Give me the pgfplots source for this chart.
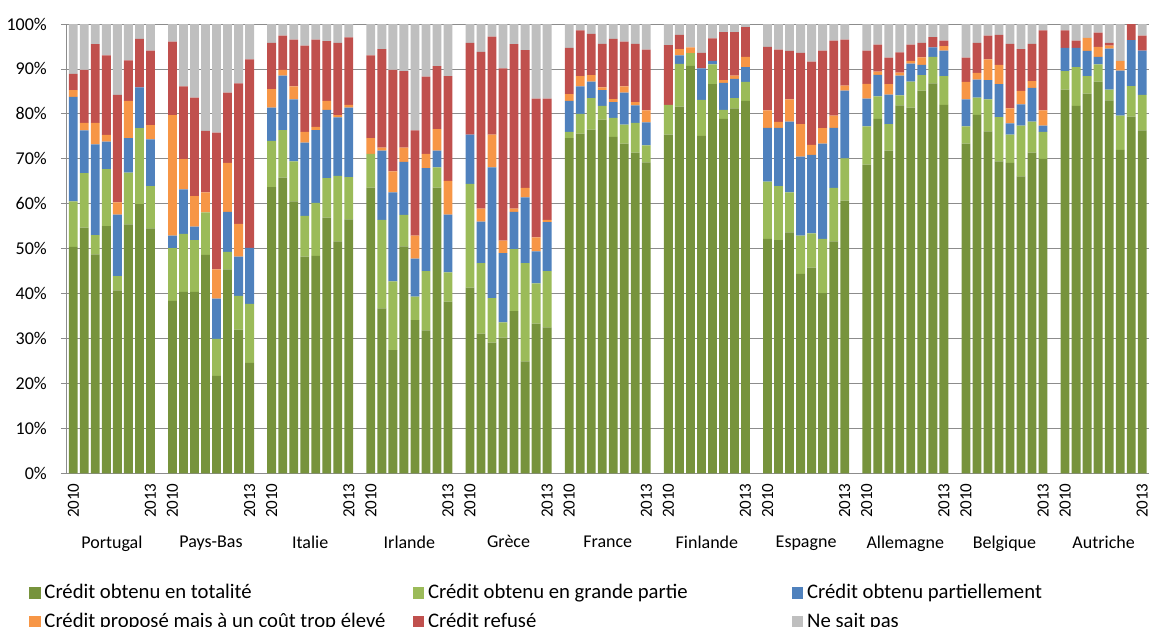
\documentclass[border=0pt]{standalone}
\usepackage{pgfplots}
\pgfplotsset{compat=1.18}
\usepackage{pgfplotstable}
\usepackage{fontspec}
\setmainfont{Carlito}
\definecolor{cD}{HTML}{77933C}
\definecolor{cL}{HTML}{9BBB59}
\definecolor{cB}{HTML}{4F81BD}
\definecolor{cO}{HTML}{F79646}
\definecolor{cR}{HTML}{C0504D}
\definecolor{cG}{HTML}{BFBFBF}
\definecolor{gridc}{HTML}{8C8C8C}

\pgfplotstableread{
x d l b o r g
0 50.4 10.1 23.3 1.5 3.6 11.1
1 54.7 12.1 9.5 1.7 11.8 10.2
2 48.7 4.3 20.2 4.8 17.5 4.5
3 55.0 12.7 6.1 1.5 17.7 7.0
4 40.7 3.2 13.7 2.7 23.9 15.8
5 55.4 11.5 7.7 8.3 9.0 8.1
6 59.9 16.9 9.1 0 10.8 3.3
7 54.5 9.4 10.4 3.2 16.6 5.9
9 38.4 11.7 2.8 26.8 16.4 3.9
10 40.4 12.9 9.9 6.7 16.2 13.9
11 40.4 11.5 3.0 6.8 21.9 16.4
12 48.6 9.5 0 4.4 13.7 23.8
13 21.7 8.2 9.0 6.5 30.4 24.2
14 45.4 3.9 8.9 10.9 15.6 15.3
15 32.0 7.5 8.7 7.3 31.3 13.2
16 24.6 13.1 12.5 0 41.9 7.9
18 63.7 10.3 7.4 4.1 10.3 4.2
19 65.8 10.6 12.1 1.3 7.6 2.6
20 60.5 8.9 13.8 2.9 10.4 3.5
21 48.2 9.1 16.3 2.4 19.2 4.8
22 48.4 11.8 16.2 0.7 19.4 3.5
23 56.9 8.8 15.2 2.0 13.3 3.8
24 51.6 14.6 13.0 0.5 16.1 4.2
25 56.5 9.4 15.5 0.6 15.0 3.0
27 63.6 7.5 0 3.5 18.4 7.0
28 36.7 19.7 15.4 0.7 21.9 5.6
29 27.4 15.3 19.8 4.7 22.6 10.2
30 50.5 7.0 11.8 3.2 17.0 10.5
31 34.1 5.2 8.5 5.1 23.4 23.7
32 31.8 13.2 22.9 3.2 17.2 11.7
33 63.6 4.5 3.7 4.8 14.0 9.4
34 38.2 6.5 12.9 7.5 23.3 11.6
36 41.3 23.1 11.0 0 20.4 4.2
37 31.1 15.7 9.2 2.9 34.9 6.2
38 29.1 9.9 29.1 7.3 21.8 2.8
39 30.2 3.4 15.4 2.8 38.3 9.9
40 36.1 13.8 8.3 0.7 36.6 4.5
41 24.9 21.9 14.6 2.1 30.7 5.8
42 33.3 9.0 7.1 3.1 30.9 16.6
43 32.5 12.5 10.9 0.5 27.0 16.6
45 74.6 1.4 6.9 1.5 10.3 5.3
46 75.6 4.4 6.1 2.3 10.2 1.4
47 76.5 7.0 3.7 1.4 9.2 2.2
48 78.7 3.1 3.5 0.6 9.7 4.4
49 74.9 4.2 3.5 0.7 13.4 3.3
50 73.4 4.2 7.1 1.4 10.0 3.9
51 71.4 6.6 3.9 0.7 13.0 4.4
52 69.2 3.8 5.1 2.7 13.5 5.7
54 75.4 6.6 0 0 13.3 4.7
55 81.6 9.5 1.9 1.4 3.2 2.4
56 90.7 2.8 0 1.3 0 5.2
57 75.1 8.0 7.0 0 3.5 6.4
58 86.6 4.4 0.8 0 5.0 3.2
59 78.9 2.0 6.0 0.6 10.7 1.8
60 81.2 2.3 4.3 0.7 9.7 1.8
61 82.9 4.2 3.3 2.3 6.6 0.7
63 52.2 12.7 12.0 3.9 14.1 5.1
64 51.9 12.0 13.0 1.3 16.1 5.7
65 53.6 8.9 15.8 4.9 10.8 6.0
66 44.4 8.5 17.6 7.2 15.9 6.4
67 45.8 7.6 17.5 2.2 18.5 8.4
68 40.1 12.1 21.2 3.4 17.3 5.9
69 51.6 11.9 13.4 2.7 16.7 3.7
70 60.7 9.4 15.1 1.1 10.2 3.5
72 68.7 8.5 6.2 3.3 7.4 5.9
73 78.9 5.0 4.8 0.7 6.0 4.6
74 71.8 5.9 6.6 2.3 5.9 7.5
75 81.9 2.2 4.4 0.7 4.5 6.3
76 81.4 5.8 4.0 0.6 3.6 4.6
77 85.2 3.4 2.3 1.7 3.2 4.2
78 86.8 5.9 2.1 0 2.3 2.9
79 82.0 6.4 5.7 1.0 1.2 3.7
81 73.4 3.8 6.0 3.9 5.4 7.5
82 79.8 3.8 4.0 1.5 6.7 4.2
83 76.1 7.1 4.3 4.6 5.3 2.6
84 69.4 9.9 7.3 4.3 6.7 2.4
85 69.1 6.3 2.5 3.3 14.4 4.4
86 66.1 11.3 4.7 3.0 9.3 5.6
87 71.4 6.9 7.5 1.5 8.3 4.4
88 70.0 6.0 1.4 3.4 17.8 1.4
90 85.4 4.1 5.2 0 3.9 1.4
91 81.8 8.6 4.3 0 1.6 3.7
92 84.5 3.9 5.6 2.9 0 3.1
93 87.2 3.8 1.7 2.2 3.2 1.9
94 83.0 2.4 9.1 0.7 0.6 4.2
95 72.0 7.6 10.0 2.2 0 8.2
96 79.4 6.8 10.2 0 3.6 0
97 76.3 7.9 9.9 0 3.3 2.6
}\chartdata

\newcommand{\lgA}[1]{\makebox[372.3bp][l]{\hspace{3.8bp}#1}}
\newcommand{\lgB}[1]{\makebox[367.6bp][l]{\hspace{3.8bp}#1}}
\newcommand{\lgC}[1]{\makebox[250bp][l]{\hspace{3.8bp}#1}}

\begin{document}
\begin{tikzpicture}
\begin{axis}[
  at={(66bp,-473.3bp)}, anchor=south west,
  scale only axis, width=1083bp, height=449.3bp,
  xmin=-0.662, xmax=97.61, ymin=0, ymax=100,
  ybar stacked, bar width=0.8,
  axis x line=bottom, axis y line=left,
  axis line style={draw=gridc, line width=0.8bp, -},
  ymajorgrids, grid style={draw=gridc, line width=0.8bp},
  ytick={0,10,...,100},
  yticklabels={0\%,10\%,20\%,30\%,40\%,50\%,60\%,70\%,80\%,90\%,100\%},
  tick align=outside, major tick length=5bp,
  ytick style={draw=gridc, line width=0.8bp},
  xtick style={draw=none},
  yticklabel style={font=\fontsize{18bp}{18bp}\selectfont, inner sep=0pt, xshift=-14bp},
  xtick={0,7,9,16,18,25,27,34,36,43,45,52,54,61,63,70,72,79,81,88,90,97},
  xticklabels={2010,2013,2010,2013,2010,2013,2010,2013,2010,2013,2010,2013,2010,2013,2010,2013,2010,2013,2010,2013,2010,2013},
  xticklabel style={font=\fontsize{17bp}{17bp}\selectfont, yshift=-5bp, rotate=90, anchor=east, inner sep=0pt},
  extra x ticks={3.5,12.5,21.5,30.5,39.5,48.5,57.5,66.5,75.5,84.5,93.5},
  extra x tick labels={Portugal,Pays-Bas,Italie,Irlande,Grèce,France,Finlande,Espagne,Allemagne,Belgique,Autriche},
  extra x tick style={xtick style={draw=none}, xticklabel style={rotate=-90, font=\fontsize{18bp}{18bp}\selectfont, anchor=north, yshift=-52bp}},
  legend columns=3,
  legend style={at={(-0.03389,-0.2470)}, anchor=north west, draw=none, fill=none,
    inner sep=0pt, outer sep=0pt, column sep=0pt, row sep=13bp,
    font=\fontsize{20.7bp}{20.7bp}\selectfont,
    cells={anchor=base west}, nodes={inner sep=0pt, outer sep=0pt}},
  legend image code/.code={\fill[#1,draw=none] (0bp,0bp) rectangle (11.4bp,11.4bp);},
]
\addplot[fill=cD, draw=none] table[x=x, y=d] {\chartdata};
\addlegendentry{\lgA{Crédit obtenu en totalité}}
\addplot[fill=cL, draw=none] table[x=x, y=l] {\chartdata};
\addlegendentry{\lgB{Crédit obtenu en grande partie}}
\addplot[fill=cB, draw=none] table[x=x, y=b] {\chartdata};
\addlegendentry{\lgC{Crédit obtenu partiellement}}
\addplot[fill=cO, draw=none] table[x=x, y=o] {\chartdata};
\addlegendentry{\lgA{Crédit proposé mais à un coût trop élevé}}
\addplot[fill=cR, draw=none] table[x=x, y=r] {\chartdata};
\addlegendentry{\lgB{Crédit refusé}}
\addplot[fill=cG, draw=none] table[x=x, y=g] {\chartdata};
\addlegendentry{\lgC{Ne sait pas}}
\end{axis}
\pgfresetboundingbox
\useasboundingbox (0,0) rectangle (1149bp,-627bp);
\end{tikzpicture}
\end{document}
